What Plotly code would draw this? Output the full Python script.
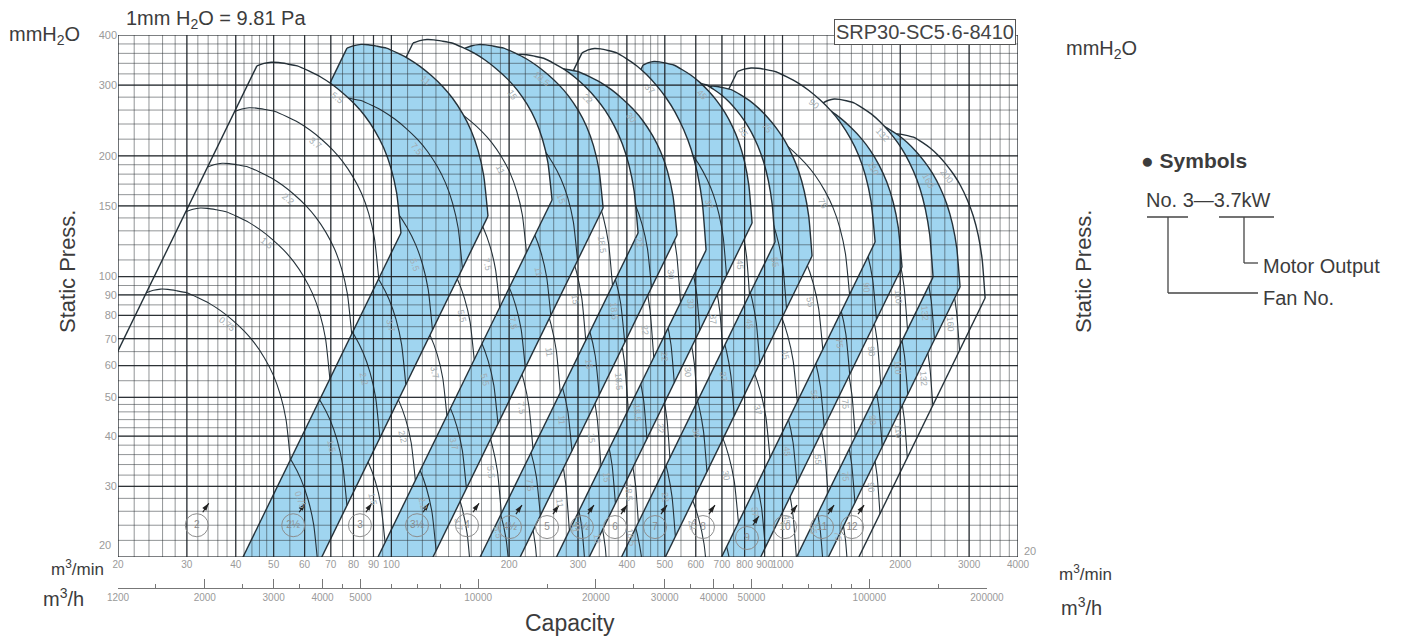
import numpy as np
import plotly.graph_objects as go

# ---------------- values ----------------
FAN_NO = ["2", "2½", "3", "3½", "4", "4½", "5", "5½", "6", "7", "8", "9", "10", "11", "12"]
FAN_BLUE = [0, 1, 0, 1, 0, 1, 0, 1, 0, 1, 0, 1, 0, 1, 0]
# start (top-left) of the highest fan curve, m3/min and mmH2O
TOP_START_Q = [45.3, 77.0, 113.6, 154.3, 197.5, 240.1, 307.2, 440.1, 547, 617, 766, 957, 1270, 1488, 1850]
TOP_START_P = [335, 371, 382, 371, 350, 324, 361, 336.7, 300.2, 292, 324, 275, 271, 239, 222]
# chevron (right end) of the highest fan curve
TOP_END_Q = [105.8, 176.6, 257.5, 347.8, 427.3, 537.6, 637.6, 836, 957, 1190, 1725, 2021, 2426, 2844, 3296]
TOP_END_P = [128.4, 141.5, 155.2, 148.2, 128.4, 126.9, 116.4, 136, 121.9, 112.5, 121.9, 105.6, 99.7, 94.2, 88.4]
# shape of a fan curve between its start (0,0) and its chevron (1,1), fractions of the log span
CURVE_SHAPE_X = [0, 0.05, 0.10, 0.15, 0.21, 0.28, 0.36, 0.44, 0.52, 0.60, 0.68, 0.75, 0.82, 0.88, 0.93, 0.97, 1.0]
CURVE_SHAPE_Y = [0, -0.015, -0.022, -0.02, -0.012, 0.0, 0.03, 0.065, 0.11, 0.165, 0.23, 0.30, 0.39, 0.49, 0.61, 0.76, 1.0]
# pressure ratio of each motor curve to the highest curve of the fan
CURVE_RATIO = [
    [1, 0.77, 0.56, 0.433, 0.272],
    [1, 0.74, 0.52, 0.38, 0.28, 0.19, 0.135],
    [1, 0.74, 0.54, 0.40, 0.29, 0.20, 0.14],
    [1, 0.74, 0.54, 0.40, 0.29, 0.20, 0.14],
    [1, 0.74, 0.54, 0.40, 0.29, 0.20, 0.14],
    [1, 0.74, 0.54, 0.40, 0.29, 0.20, 0.14],
    [1, 0.74, 0.54, 0.40, 0.29, 0.20, 0.14],
    [1, 0.74, 0.54, 0.40, 0.29, 0.20, 0.14],
    [1, 0.74, 0.54, 0.40, 0.29, 0.20, 0.14],
    [1, 0.74, 0.54, 0.40, 0.29, 0.20, 0.14],
    [1, 0.74, 0.54, 0.40, 0.29, 0.20, 0.14],
    [1, 0.74, 0.54, 0.40, 0.29, 0.20, 0.14],
    [1, 0.74, 0.54, 0.40, 0.29, 0.20, 0.14],
    [1, 0.74, 0.54, 0.40, 0.29, 0.20, 0.14],
    [1, 0.74, 0.54, 0.40, 0.29, 0.20, 0.14],
]
CURVE_KW = [
    ["5.5", "3.7", "2.2", "1.5", "0.75"],
    ["11", "7.5", "5.5", "3.7", "2.2", "1.5", "0.75"],
    ["15", "11", "7.5", "5.5", "3.7", "2.2", "1.5"],
    ["18.5", "15", "11", "7.5", "5.5", "3.7", "2.2"],
    ["22", "18.5", "15", "11", "7.5", "5.5", "3.7"],
    ["30", "22", "18.5", "15", "11", "7.5", "5.5"],
    ["37", "30", "22", "18.5", "15", "11", "7.5"],
    ["45", "37", "30", "22", "18.5", "15", "11"],
    ["55", "45", "37", "30", "22", "18.5", "15"],
    ["75", "55", "45", "37", "30", "22", "18.5"],
    ["90", "75", "55", "45", "37", "30", "22"],
    ["110", "90", "75", "55", "45", "37", "30"],
    ["132", "110", "90", "75", "55", "45", "37"],
    ["160", "132", "110", "90", "75", "55", "45"],
    ["200", "160", "132", "110", "90", "75", "55"],
]
# fan number circles
CIRCLE_Q = [31.8, 56.1, 83.1, 116.3, 156.1, 201, 250, 307, 373, 472, 626, 811, 1015, 1262, 1506]
CIRCLE_P = [24.0, 24.0, 24.0, 24.0, 24.0, 23.75, 23.75, 23.75, 23.75, 23.75, 23.75, 22.3, 23.75, 23.75, 23.75]

X_TICKS = [20, 30, 40, 50, 60, 70, 80, 90, 100, 200, 300, 400, 500, 600, 700, 800, 900, 1000, 2000, 3000, 4000]
Y_TICKS = [30, 40, 50, 60, 70, 80, 90, 100, 150, 200, 300, 400]   # "20" is printed apart, off the corner
M3H_TICKS = [1200, 2000, 3000, 4000, 5000, 10000, 20000, 30000, 40000, 50000, 100000, 200000]
M3H_MINOR = [1500, 2500, 3500, 4500, 6000, 7000, 8000, 9000, 15000, 25000, 35000, 45000,
             60000, 70000, 80000, 90000, 150000]

GRID_X = (list(range(20, 50, 2)) + list(range(50, 100, 5)) + list(range(100, 200, 10)) +
          list(range(200, 500, 20)) + list(range(500, 1000, 50)) + list(range(1000, 2000, 100)) +
          list(range(2000, 4001, 200)))
GRID_Y = (list(range(20, 50, 2)) + list(range(50, 100, 5)) + list(range(100, 200, 10)) +
          list(range(200, 401, 20)))
GRID_X_MAJOR = X_TICKS
GRID_Y_MAJOR = [20] + Y_TICKS

# ---------------- styling ----------------
FONT = "Liberation Sans, Arial, sans-serif"
NARROW = "Liberation Sans Narrow, Liberation Sans, Arial, sans-serif"
LINE = "#25323a"
BLUE = "#a0d5f0"
TICK = "#9a9a9a"

lg = np.log10
SHX = np.array(CURVE_SHAPE_X)
SHY = np.array(CURVE_SHAPE_Y)
U0, U1 = lg(20), lg(4000)
V0, V1 = lg(20), lg(400)
PXD, PYD = 900 / (U1 - U0), 522 / (V1 - V0)


def top_curve(k):
    uS, vS = lg(TOP_START_Q[k]), lg(TOP_START_P[k])
    uC, vC = lg(TOP_END_Q[k]), lg(TOP_END_P[k])
    return uS + SHX * (uC - uS), vS - SHY * (vS - vC)


def inside(j, u, v):
    tu, tv = top_curve(j)
    wL = tv[0] - 2 * tu[0]
    wR = tv[-1] - 2 * tu[-1]
    w = v - 2 * u
    between = (w > wR) & (w < wL)
    arc = np.interp(u, tu, tv)
    below = np.where(u <= tu[0], True, np.where(u >= tu[-1], False, v < arc))
    return between & below


fig = go.Figure()
labels = []

# each fan is painted from the largest to the smallest, so a smaller fan covers the next one
for k in reversed(range(len(FAN_NO))):
    tu, tv = top_curve(k)
    Q, P = 10 ** tu, 10 ** tv
    qLb = TOP_START_Q[k] * np.sqrt(12 / TOP_START_P[k])
    qRb = TOP_END_Q[k] * np.sqrt(12 / TOP_END_P[k])
    fig.add_trace(go.Scatter(
        x=[qLb] + list(Q) + [qRb], y=[12] + list(P) + [12], mode="lines", fill="toself",
        fillcolor=BLUE if FAN_BLUE[k] else "white", line=dict(width=0),
        hoverinfo="skip", showlegend=False))
    ax_, ay_ = [], []
    for r in CURVE_RATIO[k][1:]:
        ax_ += list(Q * np.sqrt(r)) + [None]
        ay_ += list(P * r) + [None]
    fig.add_trace(go.Scatter(x=ax_, y=ay_, mode="lines",
                             line=dict(color=LINE, width=1.1, shape="spline", smoothing=0.5),
                             hoverinfo="skip", showlegend=False))
    fig.add_trace(go.Scatter(
        x=[qLb, Q[0], None] + list(Q) + [None, Q[-1], qRb],
        y=[12, P[0], None] + list(P) + [None, P[-1], 12], mode="lines",
        line=dict(color=LINE, width=1.4, shape="spline", smoothing=0.5),
        hoverinfo="skip", showlegend=False))
    # labels of motor curves
    idx = np.arange(len(SHX))
    t = np.linspace(0, len(SHX) - 1, 160)
    for r, kw in zip(CURVE_RATIO[k], CURVE_KW[k]):
        u = np.interp(t, idx, tu) + 0.5 * lg(r)
        v = np.interp(t, idx, tv) + lg(r)
        vis = (u > U0 + 0.02) & (u < U1 - 0.02) & (v > V0 + 0.03) & (v < V1 - 0.02)
        if k > 0:
            vis &= ~inside(k - 1, u, v)
        ii = np.where(vis)[0]
        if len(ii) < 6:
            continue
        i = ii[int(len(ii) * 0.55)]
        i = min(max(i, 1), len(u) - 2)
        dx = (u[i + 1] - u[i - 1]) * PXD
        dy = -(v[i + 1] - v[i - 1]) * PYD
        ln = np.hypot(dx, dy)
        ang = float(np.degrees(np.arctan2(dy, dx)))
        labels.append(dict(x=u[i], y=v[i], xref="x", yref="y", text=kw, showarrow=False,
                           textangle=ang, font=dict(size=9, color="#a3acb0", family=NARROW),
                           xshift=-7 * dy / ln, yshift=-7 * dx / ln))

# grid printed over everything
gx, gy = [], []
for g in GRID_X:
    gx += [g, g, None]
    gy += [20, 400, None]
for g in GRID_Y:
    gx += [20, 4000, None]
    gy += [g, g, None]
fig.add_trace(go.Scatter(x=gx, y=gy, mode="lines", line=dict(color="rgba(40,45,50,0.68)", width=0.75),
                         hoverinfo="skip", showlegend=False))
mx, my = [], []
for g in GRID_X_MAJOR:
    mx += [g, g, None]
    my += [20, 400, None]
for g in GRID_Y_MAJOR:
    mx += [20, 4000, None]
    my += [g, g, None]
fig.add_trace(go.Scatter(x=mx, y=my, mode="lines", line=dict(color="rgba(30,35,40,0.88)", width=1.2),
                         hoverinfo="skip", showlegend=False))

# fan number circles with their small arrows
fig.add_trace(go.Scatter(x=CIRCLE_Q, y=CIRCLE_P, mode="markers+text", text=FAN_NO,
                         textposition="middle center", textfont=dict(size=10, color="#8c8c8c", family=FONT),
                         marker=dict(symbol="circle-open", size=23, color="#8c8c8c", line=dict(width=1)),
                         hoverinfo="skip", showlegend=False))
arr_q = [q * 10 ** (12 / PXD) for q in CIRCLE_Q]
arr_p = [p * 10 ** (22 / PYD) for p in CIRCLE_P]
sx, sy = [], []
for q, p in zip(arr_q, arr_p):
    sx += [q * 10 ** (-6 / PXD), q, None]
    sy += [p * 10 ** (-9 / PYD), p, None]
fig.add_trace(go.Scatter(x=sx, y=sy, mode="lines", line=dict(color="#222", width=1.2),
                         hoverinfo="skip", showlegend=False))
fig.add_trace(go.Scatter(x=arr_q, y=arr_p, mode="markers",
                         marker=dict(symbol="arrow", size=8, angle=36, color="#222"),
                         hoverinfo="skip", showlegend=False))
# carries the m3/h scale below the chart
fig.add_trace(go.Scatter(x=M3H_TICKS, y=[None] * len(M3H_TICKS), xaxis="x2", yaxis="y",
                         mode="markers", hoverinfo="skip", showlegend=False))


def px(x):
    return (x - 118) / 900


def py(y):
    return (610 - y) / 575


texts = [
    dict(x=px(124), y=py(19), text="1mm H<sub>2</sub>O = 9.81 Pa", size=20, xa="left"),
    dict(x=px(7), y=py(36), text="mmH<sub>2</sub>O", size=20, xa="left"),
    dict(x=px(1064), y=py(49), text="mmH<sub>2</sub>O", size=20, xa="left"),
    dict(x=px(67), y=py(272), text="Static Press.", size=22, xa="center", ang=-90),
    dict(x=px(1083), y=py(272), text="Static Press.", size=22, xa="center", ang=-90),
    dict(x=px(106), y=py(568), text="m<sup>3</sup>/min", size=17, xa="right"),
    dict(x=px(1057), y=py(573), text="m<sup>3</sup>/min", size=17, xa="left"),
    dict(x=px(86), y=py(597), text="m<sup>3</sup>/h", size=20, xa="right"),
    dict(x=px(1059), y=py(606), text="m<sup>3</sup>/h", size=20, xa="left"),
    dict(x=px(570), y=py(623), text="Capacity", size=23, xa="center"),
    dict(x=px(1139), y=py(160), text="● <b>Symbols</b>", size=21, xa="left"),
    dict(x=px(1144), y=py(200), text="No. 3—3.7kW", size=20, xa="left"),
    dict(x=px(1261), y=py(266), text="Motor Output", size=20, xa="left"),
    dict(x=px(1261), y=py(298), text="Fan No.", size=20, xa="left"),
]
for tx in texts:
    a = dict(x=tx["x"], y=tx["y"], xref="paper", yref="paper", text=tx["text"],
             showarrow=False, xanchor=tx["xa"], yanchor="middle",
             font=dict(size=tx["size"], color="#3c3c3c", family=FONT))
    if "ang" in tx:
        a["textangle"] = tx["ang"]
    labels.append(a)
labels.append(dict(x=px(925), y=py(32), xref="paper", yref="paper", text="SRP30-SC5·6-8410",
                   showarrow=False, xanchor="center", yanchor="middle",
                   font=dict(size=20, color="#444", family=FONT), bgcolor="white",
                   bordercolor="#555", borderwidth=1, borderpad=1))
# the lowest pressure label, printed just above the corner on both sides
labels.append(dict(x=px(113), y=py(545), xref="paper", yref="paper", text="20", showarrow=False,
                   xanchor="right", yanchor="middle", font=dict(size=11, color=TICK, family=NARROW)))
labels.append(dict(x=px(1022), y=py(551), xref="paper", yref="paper", text="20", showarrow=False,
                   xanchor="left", yanchor="middle", font=dict(size=11, color=TICK, family=NARROW)))

shapes = []
for (x0, y0, x1, y1) in [(1147, 217, 1188, 217), (1219, 217, 1274, 217),
                         (1168, 217, 1168, 293), (1168, 293, 1258, 293),
                         (1244, 217, 1244, 263), (1244, 263, 1258, 263)]:
    shapes.append(dict(type="line", xref="paper", yref="paper", x0=px(x0), y0=py(y0),
                       x1=px(x1), y1=py(y1), line=dict(color="#444", width=1.3)))

tickfont = dict(size=11, color=TICK, family=NARROW)
xtickfont = dict(size=10, color=TICK, family=NARROW)
# the page adds an 8 px body margin, so the figure is 8 px smaller and its margins 8 px tighter
fig.update_layout(
    width=1393, height=632, margin=dict(l=110, r=383, t=27, b=30),
    paper_bgcolor="white", plot_bgcolor="rgba(0,0,0,0)", showlegend=False, hovermode=False,
    font=dict(family=FONT, color="#444"),
    xaxis=dict(type="log", range=[U0, U1], domain=[0, 1], anchor="y", tickvals=X_TICKS,
               ticktext=[str(v) for v in X_TICKS], showgrid=False, zeroline=False, showline=False,
               ticks="", tickangle=0, tickfont=xtickfont),
    yaxis=dict(type="log", range=[V0, V1], domain=[py(557), 1], anchor="x", tickvals=Y_TICKS,
               ticktext=[str(v) for v in Y_TICKS], showgrid=False, zeroline=False, showline=False,
               ticks="", tickfont=tickfont),
    yaxis2=dict(type="log", range=[V0, V1], overlaying="y", side="right", anchor="x",
                tickvals=Y_TICKS, ticktext=[str(v) for v in Y_TICKS], showgrid=False,
                zeroline=False, showline=False, ticks="", tickfont=tickfont),
    xaxis2=dict(type="log", range=[lg(1200), lg(200000)], domain=[0, 869 / 900], anchor="free",
                position=py(588), side="bottom", showline=True, linecolor="#777", linewidth=1,
                ticks="inside", ticklen=9, tickcolor="#777", tickwidth=1, tickvals=M3H_TICKS,
                ticktext=[str(v) for v in M3H_TICKS], showgrid=False, zeroline=False,
                tickangle=0, tickfont=xtickfont,
                minor=dict(tickvals=M3H_MINOR, ticks="inside", ticklen=4, tickcolor="#777")),
    annotations=labels, shapes=shapes,
)

fig.write_html("out.html")
